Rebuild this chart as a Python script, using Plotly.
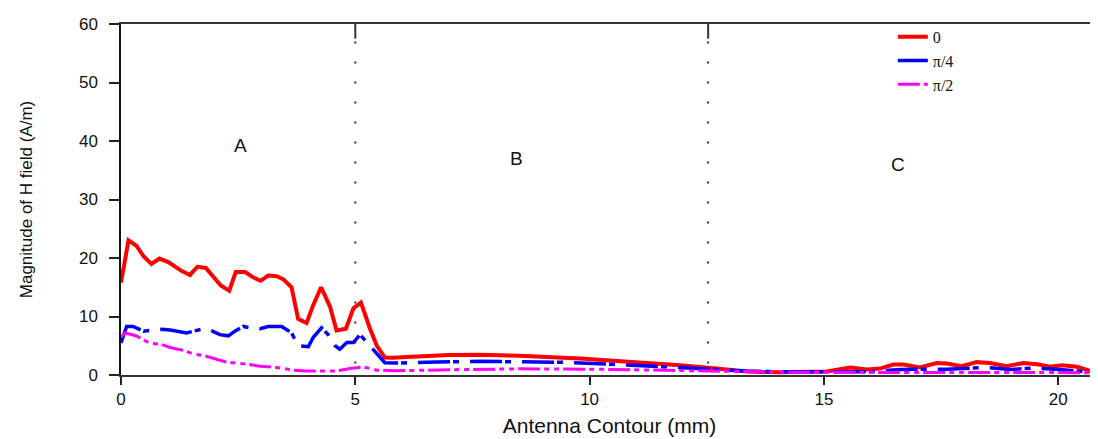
import plotly.graph_objects as go

# ---- data ----
x_0 = [0, 0.16, 0.33, 0.48, 0.65, 0.82, 1.01, 1.29, 1.47, 1.63, 1.81, 1.97, 2.13, 2.31,
       2.45, 2.65, 2.82, 2.98, 3.14, 3.32, 3.46, 3.64, 3.78, 3.96, 4.10, 4.27, 4.46,
       4.60, 4.80, 4.96, 5.12, 5.31, 5.46, 5.63, 5.81, 6.2, 7.0, 7.66, 8.5, 9.8, 11.0,
       11.93, 12.7, 13.35, 14.07, 15.06, 15.56, 15.92, 16.2, 16.48, 16.7, 17.05, 17.41,
       17.62, 17.94, 18.26, 18.54, 18.9, 19.26, 19.55, 19.83, 20.08, 20.4, 20.75]
h_0 = [15.8, 23.0, 22.1, 20.3, 19.0, 19.9, 19.3, 17.8, 17.1, 18.5, 18.3, 16.9, 15.3, 14.4,
       17.6, 17.6, 16.7, 16.1, 17.0, 16.9, 16.4, 15.0, 9.6, 8.9, 11.9, 15.0, 11.7,
       7.6, 7.9, 11.4, 12.4, 8.0, 5.0, 3.0, 2.95, 3.1, 3.4, 3.45, 3.3, 2.8, 2.2,
       1.67, 1.1, 0.6, 0.45, 0.6, 1.28, 0.95, 1.1, 1.78, 1.78, 1.28, 2.06,
       1.95, 1.5, 2.2, 2.05, 1.5, 2.06, 1.85, 1.4, 1.67, 1.4, 0.56]

x_pi4 = [0, 0.12, 0.26, 0.48, 0.87, 1.05, 1.4, 1.76, 1.92, 2.11, 2.29, 2.43, 2.61, 2.78,
         2.97, 3.14, 3.43, 3.64, 3.78, 4.0, 4.1, 4.28, 4.42, 4.57, 4.67, 4.82, 4.96,
         5.1, 5.31, 5.46, 5.63, 5.95, 6.5, 7.66, 9.44, 10.5, 11.57, 12.64, 13.35, 14.07,
         15.0, 16.0, 16.63, 17.2, 17.6, 18.47, 19.0, 19.47, 20.05, 20.75]
h_pi4 = [5.5, 8.3, 8.3, 7.5, 7.8, 7.7, 7.2, 7.9, 7.6, 6.9, 6.7, 7.5, 8.3, 8.0,
         7.9, 8.3, 8.3, 7.2, 5.0, 4.85, 6.4, 8.05, 6.9, 5.0, 4.4, 5.55, 5.55,
         6.9, 5.0, 3.6, 2.1, 2.05, 2.2, 2.33, 2.17, 1.83, 1.39, 0.94, 0.67, 0.55,
         0.5, 0.55, 0.94, 0.94, 1.0, 1.28, 0.94, 1.2, 0.94, 0.45]

x_pi2 = [0, 0.09, 0.33, 0.62, 0.83, 1.05, 1.33, 1.54, 1.76, 2.0, 2.25, 2.61, 2.97, 3.32,
         3.68, 3.96, 4.32, 4.6, 4.89, 5.17, 5.46, 5.85, 7.0, 8.5, 10.0, 11.5, 13.0,
         14.5, 16.0, 17.5, 19.0, 20.75]
h_pi2 = [6.5, 7.2, 6.67, 5.4, 5.3, 4.7, 4.2, 3.6, 3.33, 2.78, 2.2, 1.94, 1.5, 1.28,
         0.83, 0.67, 0.72, 0.7, 1.1, 1.39, 0.83, 0.72, 0.9, 1.05, 1.0, 0.85, 0.6,
         0.45, 0.45, 0.45, 0.45, 0.4]

series_names = ["0", "\u03c0/4", "\u03c0/2"]
region_labels = ["A", "B", "C"]
region_x = [2.56, 8.45, 16.58]
region_y = [39.2, 37.0, 36.0]
boundaries = [5.0, 12.53]
y_ticks = [0, 10, 20, 30, 40, 50, 60]
x_ticks = [0, 5, 10, 15, 20]

fig = go.Figure()
fig.add_trace(go.Scatter(x=x_0, y=h_0, mode="lines", name=series_names[0],
                         line=dict(color="#ff0000", width=4)))
fig.add_trace(go.Scatter(x=x_pi4, y=h_pi4, mode="lines", name=series_names[1],
                         line=dict(color="#0000ff", width=3.5, dash="32px,3px,6px,11px")))
fig.add_trace(go.Scatter(x=x_pi2, y=h_pi2, mode="lines", name=series_names[2],
                         line=dict(color="#ff00ff", width=3, dash="22px,4px,5px,5px,5px,4px")))

for bx in boundaries:
    fig.add_shape(type="line", xref="x", yref="y", x0=bx, x1=bx, y0=60, y1=57.5,
                  line=dict(color="#333333", width=2))
    fig.add_shape(type="line", xref="x", yref="y", x0=bx, x1=bx, y0=57.0, y1=0,
                  line=dict(color="#333333", width=2, dash="2px,18px"))

for lab, lx, ly in zip(region_labels, region_x, region_y):
    fig.add_annotation(x=lx, y=ly, text=lab, showarrow=False, xref="x", yref="y",
                       font=dict(family="Liberation Sans, Arial", size=19, color="#111"))

fig.update_layout(
    width=1098, height=439,
    margin=dict(l=113, r=8, t=7, b=72),
    paper_bgcolor="white", plot_bgcolor="white",
    showlegend=True,
    legend=dict(x=0.79, y=1.012, xanchor="left", yanchor="top",
                bgcolor="rgba(0,0,0,0)", borderwidth=0,
                font=dict(family="Liberation Serif, Times New Roman", size=16, color="#111"),
                tracegroupgap=0),
    font=dict(family="Liberation Sans, Arial", color="#111"),
)
fig.update_xaxes(range=[0, 20.85], tickvals=x_ticks, ticks="outside", ticklen=8, tickwidth=1.5,
                 tickcolor="#222", showline=True, linecolor="#333", linewidth=2, mirror=True,
                 showgrid=False, zeroline=False, ticklabeloverflow="allow",
                 tickfont=dict(family="Liberation Sans, Arial", size=17, color="#111"),
                 title=dict(text="Antenna Contour (mm)", standoff=10,
                            font=dict(family="Liberation Sans, Arial", size=21, color="#111")))
fig.update_yaxes(range=[0, 60], tickvals=y_ticks, ticks="outside", ticklen=10, tickwidth=1.5,
                 tickcolor="#222", showline=True, linecolor="#111", linewidth=1.5,
                 showgrid=False, zeroline=False, ticklabelstandoff=8, ticklabeloverflow="allow",
                 tickfont=dict(family="Liberation Sans, Arial", size=17, color="#111"),
                 title=dict(text="Magnitude of H field (A/m)", standoff=42,
                            font=dict(family="Liberation Sans Narrow, Arial Narrow, Liberation Sans",
                                      size=17, color="#111")))

fig.write_html("out.html")
